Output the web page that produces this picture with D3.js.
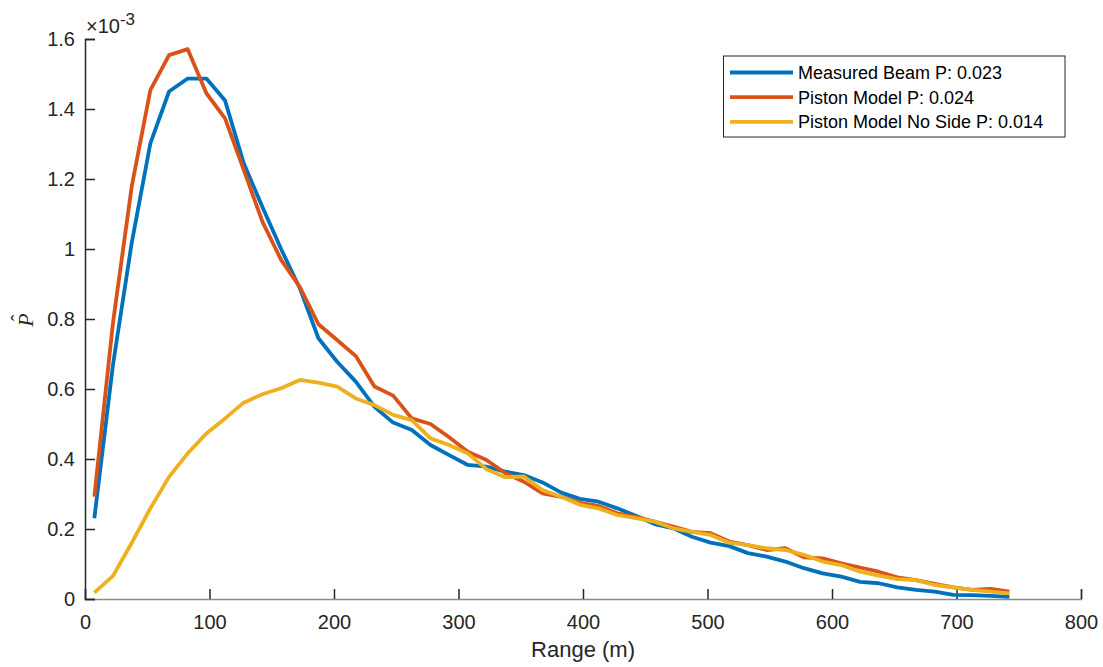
<!DOCTYPE html>
<html>
<head>
<meta charset="utf-8">
<script src="https://cdn.jsdelivr.net/npm/d3@7"></script>
<style>
	body { margin: 0; background: #fff; }
	svg { display: block; font-family: "Liberation Sans", Arial, sans-serif; }
</style>
</head>
<body>
<svg id="chart" width="1103" height="667"></svg>
<script>
/* Data (values in units of 1e-3) */
let ranges = [7.5, 22.5, 37.5, 52.5, 67.5, 82.5, 97.5, 112.5, 127.5, 142.5,
	157.5, 172.5, 187.5, 202.5, 217.5, 232.5, 247.5, 262.5, 277.5, 292.5,
	307.5, 322.5, 337.5, 352.5, 367.5, 382.5, 397.5, 412.5, 427.5, 442.5,
	457.5, 472.5, 487.5, 502.5, 517.5, 532.5, 547.5, 562.5, 577.5, 592.5,
	607.5, 622.5, 637.5, 652.5, 667.5, 682.5, 697.5, 712.5, 727.5, 742.5];

let measuredBeam = [0.231, 0.67, 1.017, 1.302, 1.45, 1.487, 1.487, 1.424, 1.245, 1.12,
	1.0, 0.888, 0.745, 0.678, 0.621, 0.549, 0.504, 0.483, 0.44, 0.411,
	0.383, 0.378, 0.364, 0.354, 0.333, 0.304, 0.286, 0.278, 0.259, 0.238,
	0.214, 0.202, 0.178, 0.161, 0.151, 0.131, 0.121, 0.107, 0.088, 0.073,
	0.064, 0.049, 0.045, 0.033, 0.026, 0.021, 0.012, 0.011, 0.009, 0.006];

let pistonModel = [0.292, 0.79, 1.178, 1.454, 1.554, 1.571, 1.445, 1.373, 1.226, 1.078,
	0.969, 0.892, 0.785, 0.74, 0.694, 0.607, 0.581, 0.516, 0.5, 0.462,
	0.421, 0.397, 0.36, 0.335, 0.302, 0.292, 0.275, 0.266, 0.245, 0.235,
	0.221, 0.207, 0.192, 0.188, 0.164, 0.154, 0.14, 0.145, 0.119, 0.116,
	0.102, 0.09, 0.078, 0.062, 0.054, 0.043, 0.033, 0.026, 0.029, 0.021];

let pistonNoSide = [0.018, 0.066, 0.16, 0.259, 0.349, 0.416, 0.473, 0.516, 0.561, 0.585,
	0.602, 0.626, 0.618, 0.607, 0.573, 0.554, 0.526, 0.511, 0.459, 0.44,
	0.416, 0.371, 0.348, 0.35, 0.311, 0.292, 0.269, 0.259, 0.24, 0.231,
	0.221, 0.202, 0.192, 0.183, 0.161, 0.154, 0.145, 0.14, 0.126, 0.107,
	0.097, 0.078, 0.067, 0.057, 0.054, 0.04, 0.033, 0.026, 0.021, 0.016];

let seriesNames = ["Measured Beam P: 0.023", "Piston Model P: 0.024", "Piston Model No Side P: 0.014"];
let seriesColors = ["#0072BD", "#D95319", "#EDB120"];
let xTicks = [0, 100, 200, 300, 400, 500, 600, 700, 800];
let yTicks = [0, 0.2, 0.4, 0.6, 0.8, 1, 1.2, 1.4, 1.6];

/* Layout */
let margin = { top: 39, right: 22, bottom: 68, left: 85 };
let width = 1103 - margin.left - margin.right;
let height = 667 - margin.top - margin.bottom;
let axisColor = "#262626";

let svg = d3.select("#chart");
let g = svg.append("g").attr("transform", "translate(" + margin.left + "," + margin.top + ")");

let xScale = d3.scaleLinear().domain([0, 800]).range([0, width]);
let yScale = d3.scaleLinear().domain([0, 1.6]).range([height, 0]);

// Axes, ticks point inward like MATLAB
let xAxis = g.append("g")
	.attr("transform", "translate(0," + height + ")")
	.call(d3.axisBottom(xScale).tickValues(xTicks).tickSize(-10).tickPadding(16).tickFormat(d3.format("d")));
xAxis.select(".domain").attr("stroke", "#8a8a8a").attr("stroke-width", 1.5);

let yAxis = g.append("g")
	.call(d3.axisLeft(yScale).tickValues(yTicks).tickSize(-10).tickPadding(10).tickFormat(function(d) { return d3.format("~g")(d); }));
yAxis.select(".domain").attr("stroke", axisColor).attr("stroke-width", 1.5);

[xAxis, yAxis].forEach(function(ax) {
	ax.selectAll(".tick line").attr("stroke", axisColor).attr("stroke-width", 1.5);
	ax.selectAll(".tick text")
		.attr("fill", axisColor)
		.style("font-size", "20px")
		.style("font-family", "Liberation Sans, Arial, sans-serif");
});

// Lines
let line = d3.line()
	.x(function(d, i) { return xScale(ranges[i]); })
	.y(function(d) { return yScale(d); });

[measuredBeam, pistonModel, pistonNoSide].forEach(function(values, i) {
	g.append("path")
		.datum(values)
		.attr("fill", "none")
		.attr("stroke", seriesColors[i])
		.attr("stroke-width", 3.8)
		.attr("stroke-linejoin", "round")
		.attr("d", line);
});

// Axis labels
svg.append("text")
	.attr("x", margin.left + width / 2)
	.attr("y", 657)
	.attr("text-anchor", "middle")
	.attr("fill", axisColor)
	.style("font-size", "22px")
	.text("Range (m)");

let yLabel = svg.append("g").attr("transform", "translate(33,320) rotate(-90)");
yLabel.append("text")
	.attr("text-anchor", "middle")
	.attr("fill", axisColor)
	.style("font-family", "Liberation Serif, serif")
	.style("font-style", "italic")
	.style("font-size", "22px")
	.text("P");
yLabel.append("text")
	.attr("x", 2)
	.attr("y", -7)
	.attr("text-anchor", "middle")
	.attr("fill", axisColor)
	.style("font-family", "Liberation Serif, serif")
	.style("font-size", "20px")
	.text("\u02C6");

// Exponent
let expText = svg.append("text")
	.attr("x", 86)
	.attr("y", 33)
	.attr("fill", axisColor)
	.style("font-size", "20px");
expText.append("tspan").style("font-weight", "lighter").text("\u00D7");
expText.append("tspan").text("10");
expText.append("tspan").attr("dy", -8).style("font-size", "17px").text("-3");

// Legend
let legend = svg.append("g");
legend.append("rect")
	.attr("x", 723.5)
	.attr("y", 56)
	.attr("width", 341.5)
	.attr("height", 81)
	.attr("fill", "#fff")
	.attr("stroke", axisColor)
	.attr("stroke-width", 1);

seriesNames.forEach(function(name, i) {
	let cy = 72.5 + i * 24.7;
	legend.append("line")
		.attr("x1", 730).attr("x2", 793)
		.attr("y1", cy).attr("y2", cy)
		.attr("stroke", seriesColors[i])
		.attr("stroke-width", 3.8);
	legend.append("text")
		.attr("x", 798)
		.attr("y", cy + 6.5)
		.attr("fill", "#000")
		.style("font-size", "18px")
		.text(name);
});
</script>
</body>
</html>
